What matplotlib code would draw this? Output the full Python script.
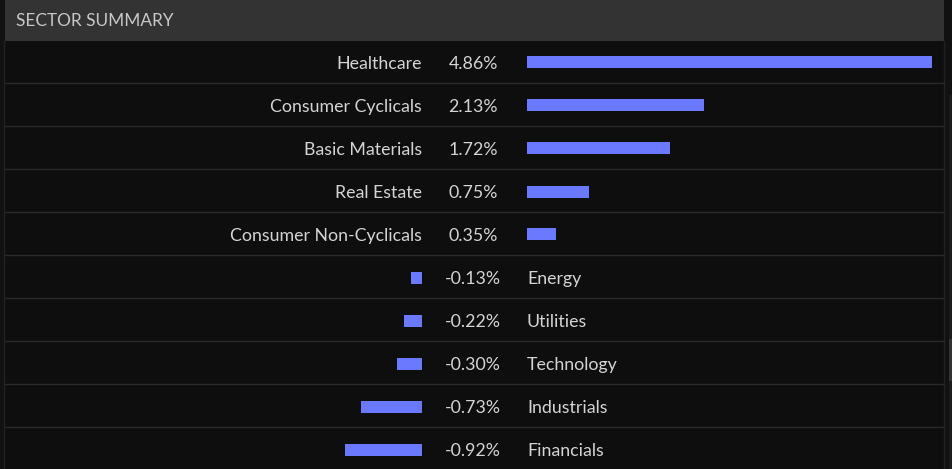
import matplotlib
matplotlib.use("Agg")
import matplotlib.pyplot as plt
from matplotlib.patches import Rectangle

sectors = ["Healthcare", "Consumer Cyclicals", "Basic Materials", "Real Estate",
           "Consumer Non-Cyclicals", "Energy", "Utilities", "Technology",
           "Industrials", "Financials"]
changes = [4.86, 2.13, 1.72, 0.75, 0.35, -0.13, -0.22, -0.30, -0.73, -0.92]
title = "SECTOR SUMMARY"

W, H = 953, 469
DPI = 100
BAR = "#6b79ff"
TXT = "#d4d4d4"
PX_PER_PCT = 83.3
FS = 12.75

plt.rcParams['font.family'] = ['Lato', 'DejaVu Sans']

fig = plt.figure(figsize=(W / DPI, H / DPI), dpi=DPI, facecolor="#111111")

bg = fig.add_axes([0, 0, 1, 1])
bg.set_xlim(0, W)
bg.set_ylim(H, 0)
bg.axis("off")

panel_l, panel_r, head_h, row_h = 5, 944, 41, 43
bg.add_patch(Rectangle((panel_l, head_h), panel_r - panel_l, H - head_h, color="#0e0e0e", lw=0))
bg.add_patch(Rectangle((panel_l, 0), panel_r - panel_l, head_h, color="#333333", lw=0))
bg.plot([4.5, 4.5], [head_h, H], color="#222222", lw=1)
bg.plot([panel_r, panel_r], [head_h, H], color="#222222", lw=1)
bg.add_patch(Rectangle((949, 95), 4, H - 95, color="#1c1c1c", lw=0))
bg.add_patch(Rectangle((949, 339), 4, 42, color="#333333", lw=0))
bg.text(16, 26, title, color="#c8c8c8", fontsize=12.4, va="baseline", ha="left")

n = len(sectors)
for i in range(1, n):
    y = head_h + row_h * i - 0.5
    bg.plot([panel_l, panel_r], [y, y], color="#2a2a2a", lw=1)

for i, (s, v) in enumerate(zip(sectors, changes)):
    yb = head_h + row_h * i + row_h / 2 + 6.5
    bg.text(473, yb, f"{v:.2f}%", color=TXT, fontsize=FS, va="baseline", ha="center")
    if v >= 0:
        bg.text(422, yb, s, color=TXT, fontsize=FS, va="baseline", ha="right")
    else:
        bg.text(527, yb, s, color=TXT, fontsize=FS, va="baseline", ha="left")

ybot = (H - (head_h + row_h * n)) / H
ytop = (H - head_h) / H
pos_l, neg_r = 527, 422
axp = fig.add_axes([pos_l / W, ybot, (panel_r - pos_l) / W, ytop - ybot])
axn = fig.add_axes([panel_l / W, ybot, (neg_r - panel_l) / W, ytop - ybot])
axp.set_xlim(0, (panel_r - pos_l) / PX_PER_PCT)
axn.set_xlim(-(neg_r - panel_l) / PX_PER_PCT, 0)
for ax in (axp, axn):
    ax.set_ylim(n - 0.5, -0.5)
    ax.axis("off")
    ax.patch.set_alpha(0)

ys = list(range(n))
axp.barh([y for y, v in zip(ys, changes) if v >= 0], [v for v in changes if v >= 0],
         height=12 / row_h, color=BAR, lw=0)
axn.barh([y for y, v in zip(ys, changes) if v < 0], [v for v in changes if v < 0],
         height=12 / row_h, color=BAR, lw=0)

fig.savefig("out.png", dpi=DPI, facecolor=fig.get_facecolor())
